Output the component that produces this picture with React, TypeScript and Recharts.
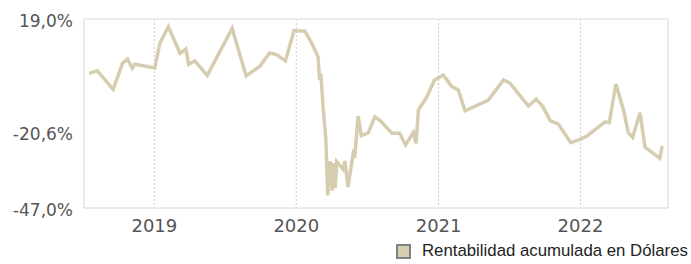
import { LineChart, Line, XAxis, YAxis, CartesianGrid, Legend, ReferenceArea } from "recharts";

const fechas = [
  "2018-07-17", "2018-08-07", "2018-09-17", "2018-10-11", "2018-10-24", "2018-11-05", "2018-11-12",
  "2019-01-02", "2019-01-15", "2019-02-06", "2019-03-08", "2019-03-23", "2019-03-30", "2019-04-15",
  "2019-05-17", "2019-07-20", "2019-08-25", "2019-09-30", "2019-10-24", "2019-11-11", "2019-12-04",
  "2019-12-26", "2020-01-23", "2020-02-10", "2020-02-26", "2020-03-01", "2020-03-04", "2020-03-10",
  "2020-03-17", "2020-03-19", "2020-03-22", "2020-03-28", "2020-04-03", "2020-04-06", "2020-04-10",
  "2020-04-14", "2020-04-30", "2020-05-05", "2020-05-13", "2020-05-26", "2020-05-30", "2020-06-08",
  "2020-06-16", "2020-07-04", "2020-07-21", "2020-08-03", "2020-09-03", "2020-09-23", "2020-10-08",
  "2020-10-28", "2020-11-04", "2020-11-10", "2020-12-02", "2020-12-21", "2021-01-13", "2021-02-04",
  "2021-02-21", "2021-03-10", "2021-05-09", "2021-06-17", "2021-07-04", "2021-08-20", "2021-09-09",
  "2021-09-26", "2021-10-15", "2021-11-05", "2021-12-07", "2021-12-31", "2022-01-18", "2022-03-05",
  "2022-03-16", "2022-04-02", "2022-04-21", "2022-05-04", "2022-05-15", "2022-06-03", "2022-06-16",
  "2022-07-24", "2022-07-30",
];

// rentabilidad acumulada (%)
const rentabilidad = [
  0.0, 0.95, -5.55, 3.53, 5.03, 1.79, 3.18,
  1.89, 10.52, 16.31, 7.02, 8.53, 3.18, 4.34,
  -0.7, 15.7, -0.9, 2.59, 7.13, 6.6, 4.34,
  14.9, 14.8, 10.5, 5.73, -2.3, 0.04, -12.07,
  -22.65, -31.3, -42.6, -30.6, -40.9, -31.3, -40.0,
  -30.75, -33.4, -30.6, -39.7, -28.3, -29.6, -14.9,
  -21.7, -20.8, -15.2, -16.4, -20.9, -20.9, -25.0,
  -20.6, -24.4, -12.8, -8.1, -2.4, -0.55, -4.6,
  -5.9, -13.1, -9.3, -2.3, -3.45, -11.4, -9.0,
  -11.6, -16.5, -17.7, -24.2, -23.0, -21.85, -16.9,
  -17.2, -3.7, -12.5, -20.7, -22.3, -13.7, -25.8,
  -29.6, -25.3,
];

const yTicks = [-47, -20.6, 19];
const xTickYears = ["2019-01-01", "2020-01-01", "2021-01-01", "2022-01-01"];
const xDomain = ["2018-07-04", "2022-08-14"];
const serieNombre = "Rentabilidad acumulada en Dólares";

const data = fechas.map((f, i) => ({ t: Date.parse(f), v: rentabilidad[i] }));
const xTicks = xTickYears.map((d) => Date.parse(d));
const domainX = xDomain.map((d) => Date.parse(d));

const LINE_COLOR = "#d6cdb0";

function LegendContent() {
  return (
    <div
      style={{
        height: 26,
        display: "flex",
        alignItems: "center",
        fontFamily: "Arial, 'Liberation Sans', sans-serif",
        fontSize: 16.8,
        color: "#222",
      }}
    >
      <span
        style={{
          display: "inline-block",
          width: 11,
          height: 11,
          background: LINE_COLOR,
          border: "2px solid #808080",
          marginRight: 11,
        }}
      />
      <span>{serieNombre}</span>
    </div>
  );
}

export default function App() {
  return (
    <div style={{ width: 691, height: 264 }}>
      <style>{"body{margin:0}"}</style>
      <LineChart
        width={691}
        height={264}
        data={data}
        margin={{ top: 19, right: 23, bottom: 0, left: 0 }}
      >
        <CartesianGrid horizontal={false} stroke="#cccccc" strokeDasharray="2 2" />
        <ReferenceArea
          x1={domainX[0]}
          x2={domainX[1]}
          y1={-47}
          y2={19}
          fill="none"
          stroke="#e6e6e6"
          strokeWidth={1.5}
        />
        <XAxis
          dataKey="t"
          type="number"
          domain={domainX}
          ticks={xTicks}
          tickFormatter={(v) => String(new Date(v).getUTCFullYear())}
          axisLine={false}
          tickLine={false}
          tickSize={6}
          tickMargin={5}
          height={30}
          tick={{ fill: "#555", fontSize: 18, fontFamily: "DejaVu Sans" }}
        />
        <YAxis
          domain={[-47, 19]}
          ticks={yTicks}
          width={84}
          axisLine={false}
          tickLine={false}
          tickSize={6}
          tickMargin={5}
          tickFormatter={(v) => v.toFixed(1).replace(".", ",") + "%"}
          tick={{ fill: "#555", fontSize: 17, fontFamily: "DejaVu Sans", dy: 2 }}
        />
        <Legend
          verticalAlign="bottom"
          content={<LegendContent />}
          wrapperStyle={{ left: 396, right: "auto", width: 295 }}
        />
        <Line
          type="linear"
          dataKey="v"
          stroke={LINE_COLOR}
          strokeWidth={3.5}
          dot={false}
          isAnimationActive={false}
        />
      </LineChart>
    </div>
  );
}
